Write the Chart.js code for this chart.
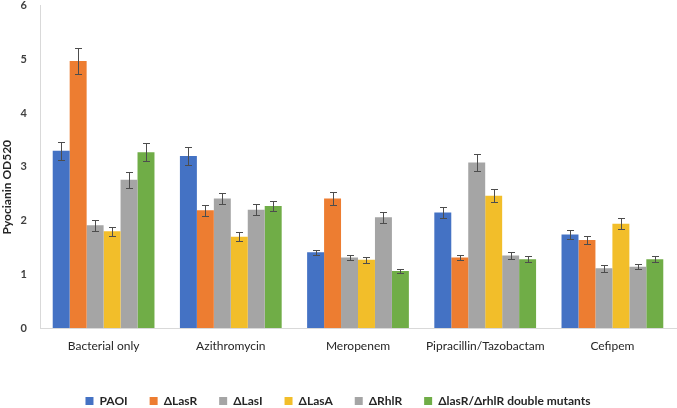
<!DOCTYPE html>
<html>
<head>
<meta charset="utf-8">
<script src="https://cdn.jsdelivr.net/npm/chart.js@4"></script>
<style>
  html, body { margin: 0; padding: 0; background: #fff; }
  #frame { width: 677px; height: 408px; position: relative; overflow: hidden; }
  #wrap { position: absolute; left: 0; top: -14px; width: 677px; height: 431px; }
</style>
</head>
<body>
<div id="frame"><div id="wrap"><canvas id="chart"></canvas></div></div>
<script>
const categories = ['Bacterial only', 'Azithromycin', 'Meropenem', 'Pipracillin/Tazobactam', 'Cefipem'];
const seriesNames = ['PAOI', 'ΔLasR', 'ΔLasI', 'ΔLasA', 'ΔRhlR', 'ΔlasR/ΔrhlR double mutants'];
const seriesColors = ['#4472C4', '#ED7D31', '#A5A5A5', '#F2BE2A', '#A5A5A5', '#70AD47'];

const paoi    = [3.30, 3.20, 1.41, 2.15, 1.74];
const lasR    = [4.97, 2.19, 2.41, 1.31, 1.64];
const lasI    = [1.91, 2.41, 1.31, 3.08, 1.11];
const lasA    = [1.80, 1.70, 1.27, 2.46, 1.94];
const rhlR    = [2.76, 2.20, 2.06, 1.35, 1.14];
const doubleM = [3.27, 2.27, 1.06, 1.28, 1.28];

const paoiErr    = [0.17, 0.17, 0.05, 0.10, 0.08];
const lasRErr    = [0.25, 0.10, 0.12, 0.05, 0.08];
const lasIErr    = [0.10, 0.11, 0.05, 0.16, 0.06];
const lasAErr    = [0.08, 0.09, 0.06, 0.12, 0.10];
const rhlRErr    = [0.15, 0.10, 0.10, 0.07, 0.05];
const doubleMErr = [0.17, 0.10, 0.04, 0.06, 0.06];

const yTicks = [0, 1, 2, 3, 4, 5, 6];

const values = [paoi, lasR, lasI, lasA, rhlR, doubleM];
const errors = [paoiErr, lasRErr, lasIErr, lasAErr, rhlRErr, doubleMErr];

// whiskers drawn from each bar using the y scale
const errorBars = {
    id: 'errorBars',
    afterDatasetsDraw(chart) {
        const ctx = chart.ctx;
        const y = chart.scales.y;
        ctx.save();
        ctx.strokeStyle = '#4d4d4d';
        ctx.lineWidth = 1;
        chart.data.datasets.forEach((ds, i) => {
            const meta = chart.getDatasetMeta(i);
            meta.data.forEach((bar, j) => {
                const v = ds.data[j], e = ds.errors[j];
                const top = Math.round(y.getPixelForValue(v + e)) + 0.5;
                const bot = Math.round(y.getPixelForValue(v - e)) + 0.5;
                const x = Math.round(bar.x) + 0.5;
                ctx.beginPath();
                ctx.moveTo(x, top); ctx.lineTo(x, bot);
                ctx.moveTo(x - 3.5, top); ctx.lineTo(x + 3.5, top);
                ctx.moveTo(x - 3.5, bot); ctx.lineTo(x + 3.5, bot);
                ctx.stroke();
            });
        });
        ctx.restore();
    }
};

const ctx = document.getElementById('chart').getContext('2d');
new Chart(ctx, {
    type: 'bar',
    data: {
        labels: categories,
        datasets: seriesNames.map((name, i) => ({
            label: name,
            data: values[i],
            errors: errors[i],
            backgroundColor: seriesColors[i],
            borderWidth: 0,
            categoryPercentage: 0.8,
            barPercentage: 1.0
        }))
    },
    options: {
        responsive: true,
        maintainAspectRatio: false,
        animation: false,
        layout: { padding: { top: 0, right: 1, left: 0, bottom: 0 } },
        scales: {
            x: {
                grid: { display: false, drawTicks: false },
                border: { display: true, color: '#d9d9d9' },
                afterFit: (axis) => { axis.height = 45; },
                ticks: {
                    color: '#262626',
                    padding: 11,
                    maxRotation: 0,
                    font: { family: 'Lato', size: 12 }
                }
            },
            y: {
                min: 0,
                max: 6,
                grid: { display: false, drawTicks: false },
                border: { display: true, color: '#d9d9d9' },
                afterBuildTicks: (axis) => { axis.ticks = yTicks.map(v => ({ value: v })); },
                afterFit: (axis) => { axis.width = 40; },
                ticks: {
                    color: '#404040',
                    padding: 13,
                    font: { family: 'Lato', size: 11, weight: 'bold' }
                },
                title: {
                    display: true,
                    text: 'Pyocianin OD520' + '\u00a0'.repeat(14),
                    color: '#262626',
                    padding: { top: 0, bottom: 0 },
                    font: { family: 'Lato', size: 12, weight: 'bold' }
                }
            }
        },
        plugins: {
            legend: {
                position: 'bottom',
                labels: {
                    boxWidth: 8,
                    boxHeight: 8,
                    padding: 22,
                    color: '#262626',
                    font: { family: 'Lato', size: 12, weight: 'bold' }
                }
            },
            tooltip: { enabled: false }
        }
    },
    plugins: [errorBars]
});
</script>
</body>
</html>
